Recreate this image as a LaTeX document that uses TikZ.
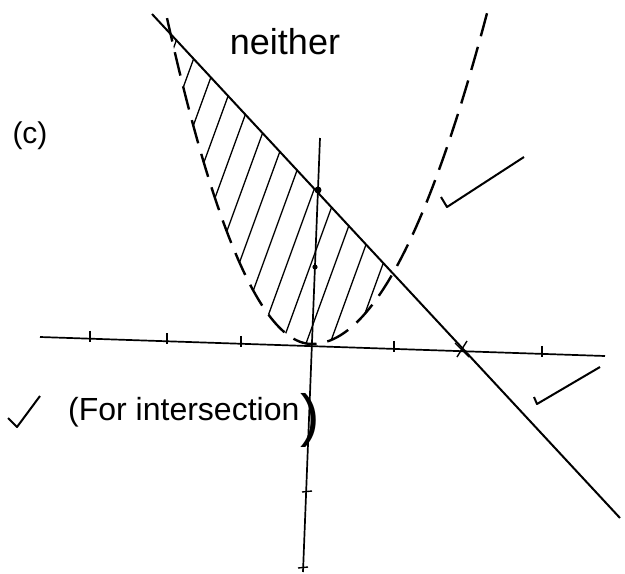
\documentclass[tikz,border=0pt]{standalone}
\usepackage{fontspec}
\setmainfont{Liberation Sans}
\begin{document}
\begin{tikzpicture}[
  x=1pt, y=-1pt,
  axis/.style={line width=1.7pt},
  edge/.style={line width=2pt},
  curve/.style={line width=2.4pt,dash pattern=on 24pt off 11pt},
  hatch/.style={line width=1.3pt},
  tick/.style={line width=1.4pt},
  lbl/.style={inner sep=0pt,font=\fontsize{32}{36}\selectfont},
]
  \useasboundingbox (0,0) rectangle (625,574);
  % axes
  \coordinate (xl) at (40,337);
  \coordinate (xr) at (605,356);
  \coordinate (yt) at (320,138);
  \coordinate (yb) at (303,572);
  \draw[axis] (xl) -- (xr);
  \draw[axis] (yt) -- (yb);
  \foreach \tx in {90,167,241,394,542}
    \draw[tick] (\tx,{337+(\tx-40)*0.0336-8}) -- ++(0,11);
  % the line
  \coordinate (l1) at (152,14);
  \coordinate (l2) at (620,518);
  \draw[edge] (l1) -- (l2);
  % shaded region
  \begin{scope}
    \clip plot[domain=-141.4:0,samples=40] ({312+\x},{344-1.55*(\x/10)*(\x/10)})
      -- plot[domain=0:80.8,samples=30] ({312+\x},{344-1.08*(\x/10)*(\x/10)}) -- cycle;
    \foreach \i in {0,...,15}
      \draw[hatch] ({60+24*\i},360) -- ++(-70:400);
  \end{scope}
  % parabola
  \draw[curve] plot[domain=-145:0,samples=50] ({312+\x},{344-1.55*(\x/10)*(\x/10)})
    -- plot[domain=0:175,samples=50] ({312+\x},{344-1.08*(\x/10)*(\x/10)});
  % points
  \fill (318,190) circle (3.5);
  \fill (315,267) circle (2.6);
  \draw[tick] (302,492) -- (312,491);
  \draw[tick] (298,568) -- (308,567);
  \draw[tick] (455,343) -- (469,357);
  \draw[tick] (457,357) -- (467,341);
  % labels
  \node[lbl,font=\fontsize{36}{40}\selectfont] (neither) at (285,42) {neither};
  \node[lbl,font=\fontsize{30}{32}\selectfont] (partc) at (30,136) {(c)};
  \node[lbl,anchor=west] (forint) at (68,412) {(For intersection};
  \node[lbl,font=\fontsize{58}{60}\selectfont,anchor=west] (brk) at (300,420) {)};
  % ticks
  \draw[edge,line join=round] (8,418) -- (17,427) -- (40,396);
  \draw[edge,line join=round] (441,197) -- (447,207) -- (524,157);
  \draw[edge,line join=round] (534,397) -- (537,404) -- (600,367);
\end{tikzpicture}
\end{document}
